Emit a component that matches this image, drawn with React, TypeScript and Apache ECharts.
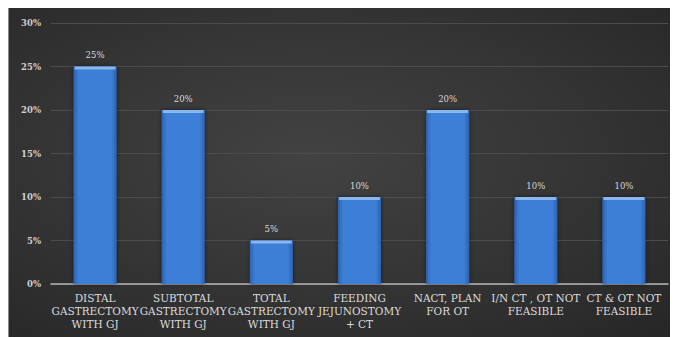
import React, { useEffect, useRef } from "react";
import * as echarts from "echarts";

const categories = [
  "DISTAL\nGASTRECTOMY\nWITH GJ",
  "SUBTOTAL\nGASTRECTOMY\nWITH GJ",
  "TOTAL\nGASTRECTOMY\nWITH GJ",
  "FEEDING\nJEJUNOSTOMY\n+ CT",
  "NACT, PLAN\nFOR OT",
  "I/N CT , OT NOT\nFEASIBLE",
  "CT & OT NOT\nFEASIBLE",
];
const values = [25, 20, 5, 10, 20, 10, 10];
const yMin = 0;
const yMax = 30;
const yStep = 5;

export default function App() {
  const ref = useRef<HTMLDivElement>(null);
  useEffect(() => {
    if (!ref.current) return;
    const chart = echarts.init(ref.current, undefined, { renderer: "svg" });
    const serif = "DejaVu Serif";
    chart.setOption({
      animation: false,
      backgroundColor: "transparent",
      textStyle: { fontFamily: serif },
      grid: { left: 42, right: 10, top: 15, bottom: 53, containLabel: false },
      xAxis: {
        type: "category",
        data: categories,
        axisLine: { show: true, lineStyle: { color: "#b5b5b5", width: 1.5 } },
        axisTick: { show: false },
        axisLabel: {
          interval: 0,
          color: "#dcdcdc",
          fontFamily: serif,
          fontSize: 10.5,
          lineHeight: 13,
          margin: 7,
        },
      },
      yAxis: {
        type: "value",
        min: yMin,
        max: yMax,
        interval: yStep,
        axisLine: { show: false },
        axisTick: { show: false },
        axisLabel: {
          formatter: (v: number) => v + "%",
          color: "#d0d0d0",
          fontFamily: serif,
          fontWeight: "bold",
          fontSize: 8.5,
          margin: 10,
        },
        splitLine: { lineStyle: { color: "#4c4c4c", width: 1 } },
      },
      series: [
        {
          type: "bar",
          data: values,
          barWidth: 43,
          itemStyle: {
            color: new echarts.graphic.LinearGradient(0, 0, 1, 0, [
              { offset: 0, color: "#2c62b0" },
              { offset: 0.12, color: "#3d7fd6" },
              { offset: 0.88, color: "#3d7fd6" },
              { offset: 1, color: "#2c62b0" },
            ]),
            shadowColor: "rgba(0,0,0,0.5)",
            shadowBlur: 4,
          },
          label: {
            show: true,
            position: "top",
            distance: 7,
            formatter: (p: any) => p.value + "%",
            color: "#d8d8d8",
            fontFamily: serif,
            fontSize: 8.5,
          },
        },
        {
          type: "scatter",
          data: values,
          symbol: "rect",
          symbolSize: [41, 3],
          symbolOffset: [0, 1.5],
          silent: true,
          itemStyle: { color: "#9cc6f6" },
          z: 5,
        },
      ],
    });
    return () => chart.dispose();
  }, []);
  return (
    <div
      style={{
        width: 670,
        height: 329,
        borderLeft: "1px solid #8a8a8a",
        boxSizing: "border-box",
        background:
          "radial-gradient(ellipse at 45% 45%, #424242 0%, #353535 50%, #262626 100%)",
      }}
    >
      <div ref={ref} style={{ width: 669, height: 329 }} />
    </div>
  );
}
